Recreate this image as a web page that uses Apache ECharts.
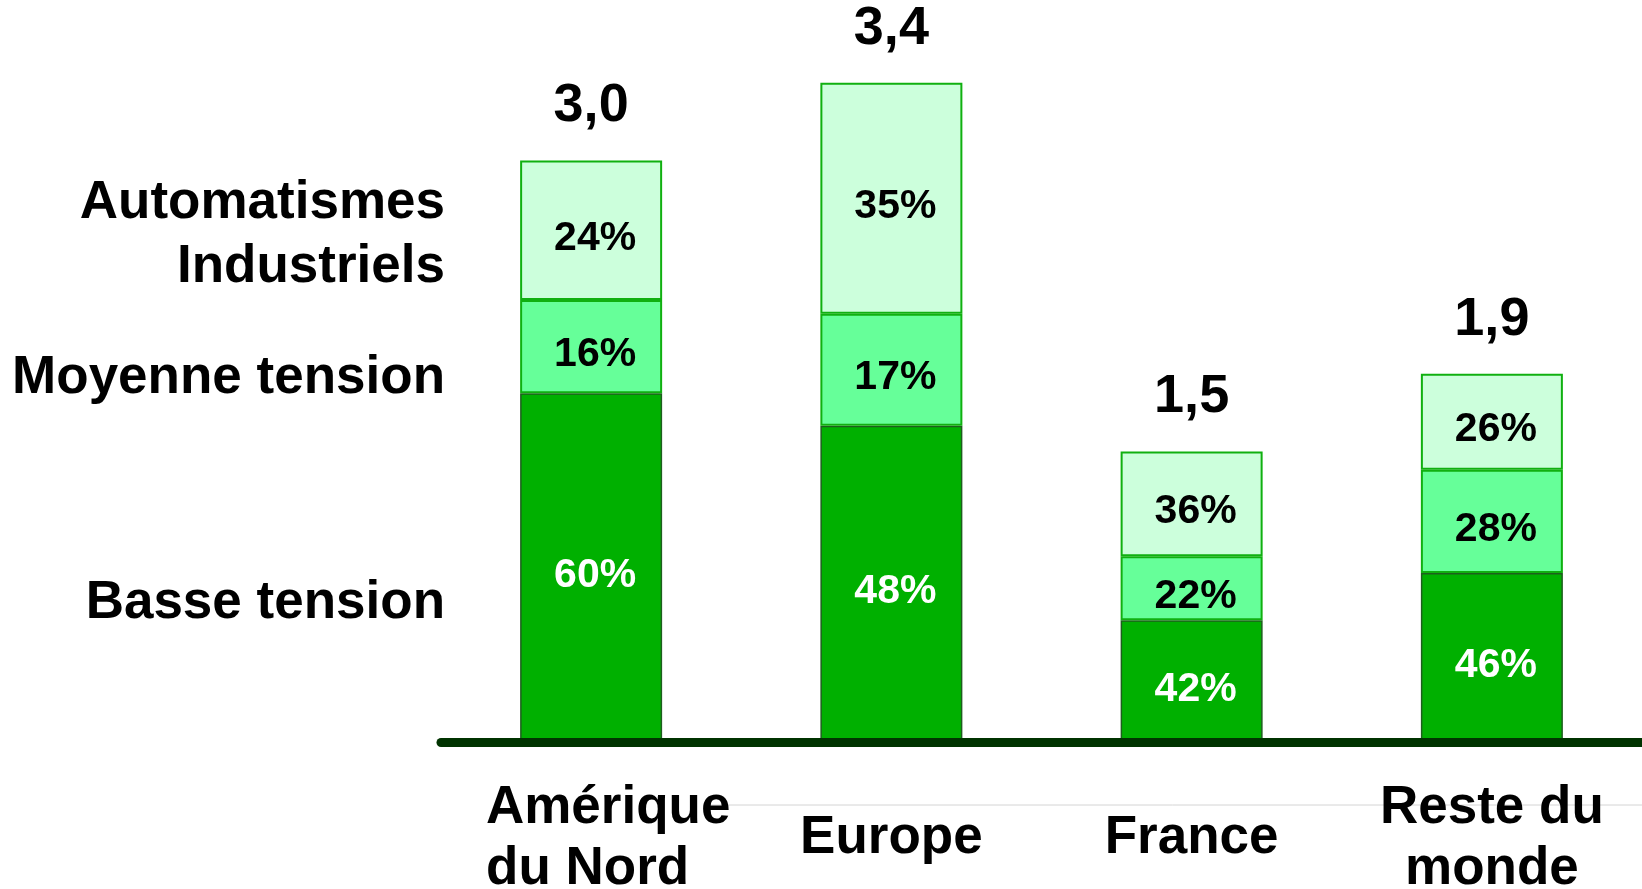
<!DOCTYPE html>
<html>
<head>
<meta charset="utf-8">
<script src="https://cdn.jsdelivr.net/npm/echarts@6/dist/echarts.min.js"></script>
<style>html,body{margin:0;padding:0;background:#fff;}#c{width:1642px;height:889px;}</style>
</head>
<body>
<div id="c"></div>
<script>
const categories = ['Amérique\ndu Nord', 'Europe', 'France', 'Reste du\nmonde'];
const totals = [3.0, 3.4, 1.5, 1.9];
const basseTension = [60, 48, 42, 46];
const moyenneTension = [16, 17, 22, 28];
const automatismes = [24, 35, 36, 26];
const seriesNames = ['Basse tension', 'Moyenne tension', 'Automatismes\nIndustriels'];

const FONT = '"Liberation Sans", Arial, sans-serif';
const chart = echarts.init(document.getElementById('c'), null, {renderer: 'canvas'});

function seg(pcts) {
  return pcts.map((p, i) => ({value: totals[i] * p / 100, pct: p}));
}
function pctLabel(color) {
  return {
    show: true, position: 'inside', offset: [4, 8],
    formatter: p => p.data.pct + '%',
    color: color, fontFamily: FONT, fontWeight: 'bold', fontSize: 41
  };
}
const richTxt = {color: '#000', fontFamily: FONT, fontWeight: 'bold', fontSize: 53, lineHeight: 61};

const option = {
  animation: false,
  backgroundColor: '#ffffff',
  grid: {left: 441, right: 0, top: 5.2, bottom: 146.5, containLabel: false, outerBoundsMode: 'none'},
  xAxis: {
    type: 'category', data: categories, z: 10,
    axisLine: {show: true, lineStyle: {color: '#003300', width: 9}},
    axisTick: {show: false},
    axisLabel: {
      color: '#000', fontFamily: FONT, fontWeight: 'bold', fontSize: 53,
      lineHeight: 61, margin: 96, verticalAlign: 'middle', interval: 0,
      formatter: (v, i) => {
        if (i !== 0) return v;
        const lines = v.split('\n');
        return '{s| }{l|' + lines[0] + '}\n{l|' + lines[1] + '}{t| }';
      },
      rich: {
        s: Object.assign({}, richTxt, {width: 34}),
        t: Object.assign({}, richTxt, {width: 7}),
        l: Object.assign({}, richTxt)
      }
    },
    splitLine: {show: false}
  },
  yAxis: {type: 'value', min: 0, max: 3.8, show: false, splitLine: {show: false}},
  series: [
    {
      name: seriesNames[0], type: 'bar', stack: 's', barWidth: 142,
      data: seg(basseTension),
      itemStyle: {color: '#00B000', borderColor: '#1e5e1e', borderWidth: 1.5},
      label: pctLabel('#ffffff')
    },
    {
      name: seriesNames[1], type: 'bar', stack: 's', barWidth: 142,
      data: seg(moyenneTension),
      itemStyle: {color: '#66FF99', borderColor: '#10B010', borderWidth: 2},
      label: pctLabel('#000000')
    },
    {
      name: seriesNames[2], type: 'bar', stack: 's', barWidth: 142,
      data: seg(automatismes),
      itemStyle: {color: '#CCFFDC', borderColor: '#10B010', borderWidth: 2},
      label: pctLabel('#000000')
    },
    {
      name: 'Total', type: 'scatter', symbolSize: 0, z: 5,
      data: totals,
      itemStyle: {opacity: 1},
      label: {
        show: true, position: 'top', distance: 27,
        formatter: p => p.value.toFixed(1).replace('.', ','),
        color: '#000', fontFamily: FONT, fontWeight: 'bold', fontSize: 54
      }
    }
  ],
  graphic: [
    {type: 'line', z: -1, shape: {x1: 703, y1: 805, x2: 1642, y2: 805}, style: {stroke: '#d4d4d4', lineWidth: 1}},
    {type: 'text', x: 445, y: 235, style: {text: seriesNames[2], align: 'right', verticalAlign: 'middle', fill: '#000', font: 'bold 53px ' + FONT, lineHeight: 64}},
    {type: 'text', x: 445, y: 378, style: {text: seriesNames[1], align: 'right', verticalAlign: 'middle', fill: '#000', font: 'bold 53px ' + FONT}},
    {type: 'text', x: 445, y: 603, style: {text: seriesNames[0], align: 'right', verticalAlign: 'middle', fill: '#000', font: 'bold 53px ' + FONT}}
  ]
};
chart.setOption(option);
</script>
</body>
</html>
